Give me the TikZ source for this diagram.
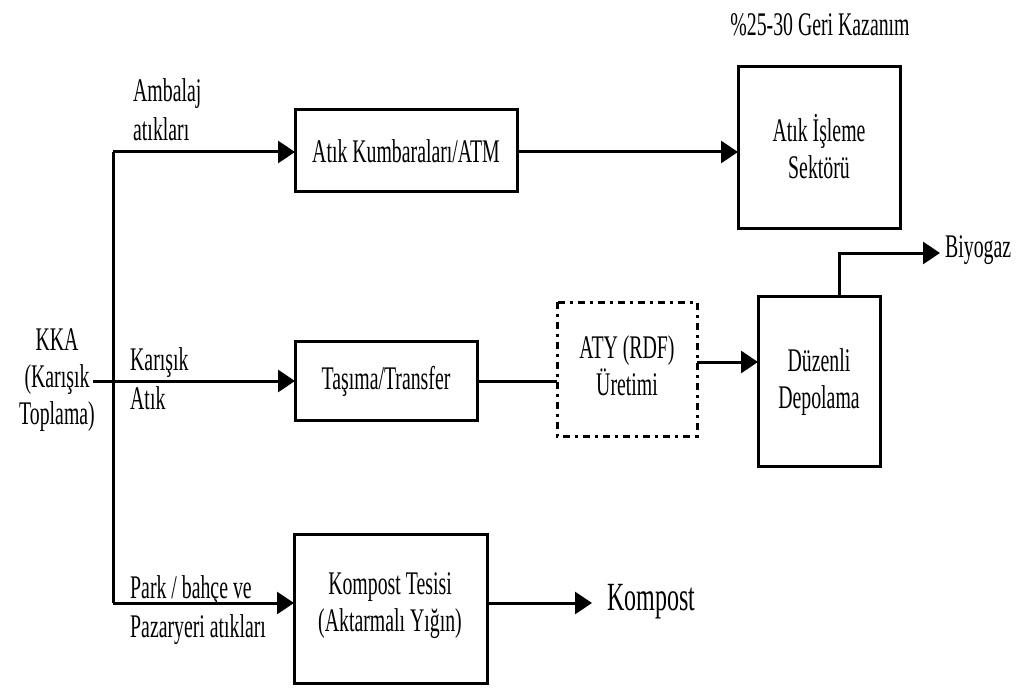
\documentclass[tikz,border=0pt]{standalone}
\usepackage{fontspec}
\setmainfont[FakeStretch=0.6]{Liberation Serif}
\usetikzlibrary{arrows.meta}
\begin{document}
\begin{tikzpicture}[x=1pt,y=-1pt,
  txt/.style={font=\fontsize{33}{37}\selectfont, align=center, inner sep=0pt},
  ltxt/.style={font=\fontsize{33}{39}\selectfont, align=left, inner sep=0pt, anchor=west},
  boxr/.style={draw, line width=3pt},
  dashbox/.style={draw, line width=3pt, dash pattern=on 7pt off 5pt on 3pt off 5pt},
  ln/.style={line width=3pt},
  arr/.style={line width=3pt, -{Triangle[length=17pt,width=22pt]}}]
\useasboundingbox (0,0) rectangle (1018,690);
% boxes
\draw[boxr] (295,110) rectangle (517,192);
\node[txt] (b1) at (406,151) {Atık Kumbaraları/ATM};
\coordinate (b1w) at (295,152); \coordinate (b1e) at (517,152);
\draw[boxr] (738,67) rectangle (900,228);
\node[txt] (b2) at (819,147) {Atık İşleme\\Sektörü};
\coordinate (b2w) at (738,152);
\draw[boxr] (295,341) rectangle (477,420);
\node[txt] (b3) at (386,381) {Taşıma/Transfer};
\coordinate (b3w) at (295,381); \coordinate (b3e) at (477,381);
\draw[dashbox] (557,302) rectangle (697,436);
\node[txt] (b4) at (627,366) {ATY (RDF)\\Üretimi};
\coordinate (b4w) at (557,381); \coordinate (b4e) at (697,362);
\draw[boxr] (758,296) rectangle (880,466);
\node[txt] (b5) at (819,382) {Düzenli\\Depolama};
\coordinate (b5w) at (758,362); \coordinate (b5n) at (839,296);
\draw[boxr] (294,534) rectangle (487,683);
\node[txt] (b6) at (390,606) {Kompost Tesisi\\(Aktarmalı Yığın)};
\coordinate (b6w) at (294,603); \coordinate (b6e) at (487,603);
% texts
\node[txt] (top) at (820,25) {\%25-30 Geri Kazanım};
\node[txt] (kka) at (57,380) {KKA\\(Karışık\\Toplama)};
\node[txt, anchor=west] (bio) at (945,250) {Biyogaz};
\node[font=\fontsize{40}{44}\selectfont, inner sep=0pt, anchor=west] (komp) at (607,602) {Kompost};
\node[ltxt] (l1) at (133,110) {Ambalaj\\atıkları};
\node[ltxt] (l2) at (130,379) {Karışık\\Atık};
\node[ltxt] (l3) at (130,610) {Park / bahçe ve\\Pazaryeri atıkları};
% connectors
\coordinate (t1) at (113,152);
\coordinate (t3) at (113,603);
\coordinate (ks) at (93,381);
\draw[ln] (t1) -- (t3);
\draw[arr] (t1) -- (b1w);
\draw[arr] (b1e) -- (b2w);
\draw[arr] (ks) -- (b3w);
\draw[ln] (b3e) -- (b4w);
\draw[arr] (b4e) -- (b5w);
\coordinate (bk) at (839,253);
\coordinate (bioend) at (940,253);
\draw[arr] (b5n) -- (bk) -- (bioend);
\draw[arr] (t3) -- (b6w);
\coordinate (kend) at (592,603);
\draw[arr] (b6e) -- (kend);
\end{tikzpicture}
\end{document}
